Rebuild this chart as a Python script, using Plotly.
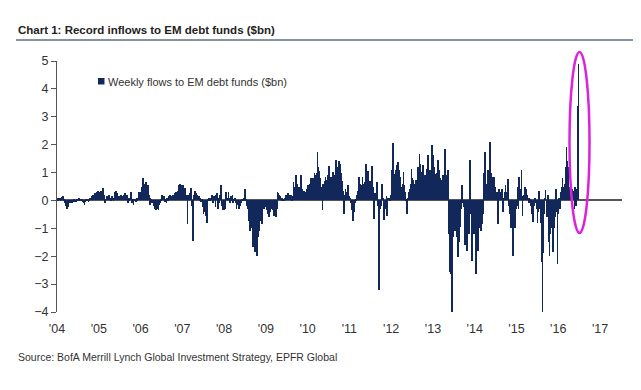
import pandas as pd
import plotly.graph_objects as go

# Weekly flows to EM debt funds ($bn), one list per year
flows_2004 = [0.1,0.05,0.1,0.08,0.05,0.1,0.12,0.15,0.05,
              -0.05,-0.1,-0.2,-0.3,-0.15,-0.25,-0.1,-0.08,
              -0.1,-0.05,-0.08,-0.05,0.02,-0.03,-0.05,0.03,-0.02,0.05,0.08,0.03,-0.02,
              0.05,0.02,-0.03,-0.1,-0.15,-0.05,0.03,0.05,0.02,-0.05,
              0.05,0.1,0.08,0.15,0.1,0.2,0.12,0.25,0.15,0.3,0.2,0.35]
flows_2005 = [0.3,0.2,0.35,0.25,0.3,0.45,0.2,
              -0.1,0.05,0.1,0.15,0.1,0.2,
              0.15,0.1,0.05,0.15,0.1,0.05,
              0.2,0.3,0.35,0.25,0.2,0.15,0.1,
              0.15,0.2,0.1,0.15,0.12,0.2,0.25,
              0.15,0.1,0.2,-0.1,0.1,0.05,
              0.1,0.3,-0.1,0.05,-0.15,0.05,0.02,
              -0.05,0.1,0.05,0.15,0.3,0.2]
flows_2006 = [0.3,0.5,0.4,0.8,0.3,0.6,
              0.65,0.2,0.3,0.55,0.2,
              -0.15,0.1,0.05,-0.1,-0.05,
              -0.2,-0.3,-0.25,-0.35,-0.3,-0.2,-0.35,-0.15,
              -0.1,0.05,0.2,0.15,0.1,0.15,-0.05,
              0.05,-0.1,0.1,0.05,0.15,0.2,0.1,
              0.15,0.1,0.2,0.15,0.25,0.2,0.3,
              0.2,0.35,0.55,0.4,0.6,0.3,0.55]
flows_2007 = [0.55,0.3,0.25,0.45,0.15,0.2,
              -0.83,
              0.2,0.1,0.25,
              0.45,0.3,-0.2,-1.45,
              0.2,0.35,0.3,0.25,0.2,0.1,
              0.15,0.05,0.1,-0.05,0.05,
              -0.25,-0.5,-0.35,-0.4,-0.55,-0.82,-0.3,
              0.05,0.1,0.05,0.1,0.15,0.2,
              -0.1,0.15,0.1,-0.25,0.2,0.25,-0.3,
              0.1,-0.1,0.2,0.55,-0.2,-0.35,-0.35]
flows_2008 = [-0.35,-0.3,0.3,0.1,0.05,0.3,
              0.1,-0.1,0.15,0.05,0.2,-0.1,
              0.05,0.1,-0.1,-0.3,-0.1,-0.15,
              -0.3,-0.25,-0.2,-0.1,0.05,0.02,
              0.1,0.05,0.4,0.05,-0.2,-0.3,
              -0.72,-0.5,-1.08,-0.9,-1.0,-1.3,
              -1.68,-1.4,-1.86,-1.5,-1.92,-1.98,
              -1.32,-0.96,-1.1,-0.72,-0.6,-0.84,
              -0.3,-0.2,-0.3,-0.25]
flows_2009 = [-0.24,-0.36,-0.48,-0.6,-0.3,-0.4,
              -0.25,-0.3,-0.35,-0.5,-0.55,-0.2,-0.6,-0.3,
              0.3,0.25,0.2,0.15,0.1,0.05,
              0.1,0.05,0.02,0.1,0.15,0.2,0.1,
              0.25,0.15,0.2,0.1,0.2,0.05,0.15,
              0.66,0.5,0.4,0.9,0.6,0.55,0.3,
              0.5,0.3,0.9,0.6,0.4,0.3,0.35,
              0.25,0.3,0.2,0.4]
flows_2010 = [0.55,0.45,0.6,0.5,0.8,0.75,0.8,0.65,1.0,0.9,
              0.7,1.0,1.75,1.2,1.04,0.8,0.5,0.2,-0.35,0.6,
              0.5,0.7,0.85,0.6,0.75,0.9,1.25,0.9,0.8,0.85,
              0.8,1.02,0.7,0.9,0.8,1.45,1.1,1.2,1.0,1.4,
              1.3,1.0,0.9,0.7,0.35,-0.5,0.2,0.4,0.2,0.3,
              0.55,0.15]
flows_2011 = [0.1,0.1,-0.1,-0.35,-0.75,-0.4,-0.2,-0.1,0.05,0.2,
              0.35,0.45,0.85,0.6,0.5,0.55,0.85,0.6,0.6,0.65,
              1.3,0.7,0.6,1.05,0.65,0.7,0.6,0.65,1.25,0.5,
              -0.65,0.1,0.25,0.1,0.65,-0.2,-1.2,-3.2,-0.3,-0.2,
              0.6,0.3,0.1,-0.7,-0.3,-0.2,0.15,-0.55,0.1,0.1,
              0.05,0.2]
flows_2012 = [0.78,1.08,2.06,0.96,0.9,1.08,0.8,1.26,1.38,1.08,
              0.7,0.84,0.45,0.5,0.6,1.02,0.55,0.3,0.05,-0.48,
              -0.5,0.1,0.3,0.42,0.6,1.14,0.8,0.72,0.6,0.42,
              0.5,0.72,0.6,1.2,1.0,1.68,1.3,1.02,0.9,1.26,
              0.8,0.66,0.9,0.75,1.14,0.9,1.62,0.84,1.08,0.9,
              1.26,1.98]
flows_2013 = [1.62,1.2,0.96,0.9,0.78,1.0,1.44,1.1,0.78,0.8,
              0.72,0.6,0.9,0.8,1.0,1.86,0.9,0.84,1.08,-0.96,
              -1.2,-2.58,-2.64,-4.0,-1.32,-1.3,-0.96,-1.1,-0.72,-1.32,
              -0.6,-2.04,-1.5,-0.96,-0.72,-0.3,0.54,-0.1,-0.24,-0.9,
              -1.6,-0.36,-1.8,-1.0,-0.72,-1.2,1.45,-0.5,-2.16,-0.6,
              -0.9,-1.2]
flows_2014 = [-0.36,-2.64,-1.32,-1.32,-1.8,-1.0,-0.36,-1.08,-1.0,-0.84,
              -0.5,1.0,1.74,0.9,0.6,0.55,1.08,0.8,1.26,2.1,
              1.0,0.84,0.5,0.3,0.84,0.5,0.2,0.3,-0.2,-0.84,
              0.42,0.2,0.3,0.1,0.4,-0.4,0.1,0.3,0.54,0.2,
              0.3,0.78,-0.2,-0.5,-0.3,-1.0,-0.6,-1.98,-1.0,-0.6,
              -1.0,-0.3]
flows_2015 = [-0.2,0.5,-0.3,0.84,0.4,0.3,1.08,-0.54,0.15,0.2,
              0.5,0.3,0.4,0.2,0.1,-0.1,0.1,0.05,-0.2,-0.5,
              -0.78,-0.4,-0.2,0.1,-0.1,-0.3,-0.8,-0.4,0.35,-0.3,
              -0.8,-2.2,-4.0,-1.9,-0.5,0.1,0.36,-0.2,-0.6,0.2,
              -1.5,-2.0,-1.2,-0.8,-1.0,-1.86,-1.2,-1.0,-0.6,0.4,
              -0.4,-2.28]
flows_2016 = [-0.5,0.1,-0.3,0.3,0.5,0.8,0.3,0.5,0.6,1.2,
              1.92,1.4,1.2,0.5,0.4,0.3,0.2,0.4,0.35,0.1,
              -0.3,0.5,-0.2,0.4,3.4,4.9]

yearly_flows = {2004: flows_2004, 2005: flows_2005, 2006: flows_2006, 2007: flows_2007,
                2008: flows_2008, 2009: flows_2009, 2010: flows_2010, 2011: flows_2011,
                2012: flows_2012, 2013: flows_2013, 2014: flows_2014, 2015: flows_2015,
                2016: flows_2016}

tick_years = list(range(2004, 2018))
tick_labels = ["'" + str(y)[2:] for y in tick_years]

title_text = "Chart 1: Record inflows to EM debt funds ($bn)"
legend_text = "Weekly flows to EM debt funds ($bn)"
source_text = "Source: BofA Merrill Lynch Global Investment Strategy, EPFR Global"

dates, values = [], []
for yr, vals in yearly_flows.items():
    d = pd.date_range(start=f"{yr}-01-04", periods=len(vals), freq="7D")
    dates.extend(d)
    values.extend(vals)

NAVY = "#13285a"
OFF = 8                      # page body margin
W, H = 641 - OFF, 390 - OFF
L, R, T, B = 57 - OFF, 622 - OFF, 61 - OFF, 312 - OFF  # plot area in figure px

def px_x(p):  # window px -> paper
    return (p - OFF - L) / (R - L)

def px_y(p):
    return (B - (p - OFF)) / (B - T)

FONT = "Liberation Sans, Arial, sans-serif"

fig = go.Figure()
fig.add_trace(go.Bar(x=dates, y=values, marker=dict(color=NAVY, line=dict(width=0)),
                     width=6.5 * 24 * 3600 * 1000, showlegend=False))

fig.update_layout(
    width=W, height=H, autosize=False,
    margin=dict(l=L, r=W - R, t=T, b=H - B, pad=0),
    paper_bgcolor="white", plot_bgcolor="white",
    bargap=0,
    font=dict(family=FONT, size=12, color="#333333"),
    xaxis=dict(type="date", range=["2004-01-01", "2017-07-12"],
               tickvals=[f"{y}-01-01" for y in tick_years], ticktext=tick_labels,
               showgrid=False, showline=False, zeroline=False, ticks="",
               ticklabelstandoff=7, tickfont=dict(size=12.5, family=FONT, color="#333333")),
    yaxis=dict(range=[-4, 5], tickvals=list(range(-4, 6)), showgrid=False,
               showline=True, linecolor="#555555", linewidth=1,
               ticks="outside", ticklen=5, tickcolor="#555555", tickwidth=1,
               zeroline=True, zerolinecolor="#555555", zerolinewidth=1.5,
               tickfont=dict(size=12.5, family=FONT, color="#333333")),
)

# title and rule under it
fig.add_annotation(text=f"<b>{title_text}</b>", xref="paper", yref="paper",
                   x=px_x(16), y=px_y(30), xanchor="left", yanchor="middle",
                   showarrow=False, font=dict(size=11.5, family=FONT, color="#222222"))
fig.add_shape(type="line", xref="paper", yref="paper", x0=px_x(16), x1=px_x(641),
              y0=px_y(40), y1=px_y(40), line=dict(color="#5f6f80", width=1.5))

# legend marker + text
fig.add_shape(type="rect", xref="paper", yref="paper", x0=px_x(98), x1=px_x(104.5),
              y0=px_y(84.5), y1=px_y(78), fillcolor=NAVY, line=dict(width=0))
fig.add_annotation(text=legend_text, xref="paper", yref="paper",
                   x=px_x(106), y=px_y(81.5), xanchor="left", yanchor="middle",
                   showarrow=False, font=dict(size=11, family=FONT, color="#333333"))

# source
fig.add_annotation(text=source_text, xref="paper", yref="paper",
                   x=px_x(16), y=px_y(357), xanchor="left", yanchor="middle",
                   showarrow=False, font=dict(size=10.5, family=FONT, color="#333333"))

# magenta ellipse highlighting the record inflow (x in data, y in paper so it is not clipped)
fig.add_shape(type="circle", xref="x", yref="paper", x0="2016-04-09", x1="2016-10-01",
              y0=px_y(233), y1=px_y(52), line=dict(color="#dd22dd", width=2.5))

fig.write_html("out.html")
